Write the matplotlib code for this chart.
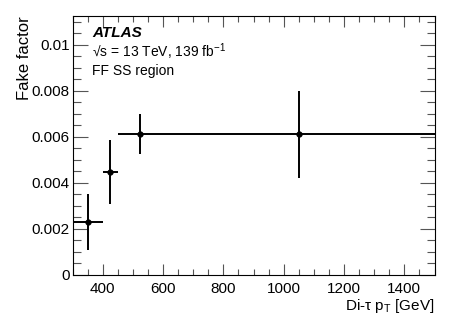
import matplotlib
matplotlib.use("Agg")
import matplotlib.pyplot as plt
from matplotlib.ticker import MultipleLocator

plt.rcParams['font.family'] = ['Liberation Sans', 'DejaVu Sans']

# bin edges and fake factors
bin_low = [300, 400, 450, 600]
bin_high = [400, 450, 600, 1500]
bin_center = [350, 425, 525, 1050]
ff = [0.0023, 0.00448, 0.00612, 0.00612]
ff_up = [0.0012, 0.0014, 0.00087, 0.0019]
ff_down = [0.0012, 0.0014, 0.00086, 0.0019]

xerr_lo = [c - l for c, l in zip(bin_center, bin_low)]
xerr_hi = [h - c for c, h in zip(bin_center, bin_high)]

fig = plt.figure(figsize=(4.57, 3.28), dpi=100)
ax = fig.add_axes([72.5/457, 53/328, 362/457, 259/328])

ax.errorbar(bin_center, ff, xerr=[xerr_lo, xerr_hi], yerr=[ff_down, ff_up],
            fmt='o', color='black', markersize=3.5, elinewidth=1.4, capsize=0)

ax.set_xlim(300, 1500)
ax.set_ylim(0, 0.01126)
ax.xaxis.set_major_locator(MultipleLocator(200))
ax.xaxis.set_minor_locator(MultipleLocator(50))
ax.yaxis.set_minor_locator(MultipleLocator(0.0005))
ax.set_yticks([0, 0.002, 0.004, 0.006, 0.008, 0.01])
ax.set_yticklabels(['0', '0.002', '0.004', '0.006', '0.008', '0.01'])
ax.tick_params(which='both', direction='in', top=True, right=True, labelsize=11,
               width=0.8, color='#555555')
ax.tick_params(axis='x', which='major', length=8, pad=5)
ax.tick_params(axis='x', which='minor', length=4)
ax.tick_params(axis='y', which='major', length=11, pad=2)
ax.tick_params(axis='y', which='minor', length=5.5)

ax.set_xlabel('Di-τ p$_\\mathregular{T}$ [GeV]', fontsize=11, loc='right', labelpad=1)
ax.set_ylabel('Fake factor', fontsize=12, loc='top', labelpad=0)

ax.text(0.054, 0.934, 'ATLAS', transform=ax.transAxes, fontsize=11,
        fontweight='bold', fontstyle='italic', va='center')
ax.text(0.054, 0.861, '√s = 13 TeV, 139 fb$^\\mathregular{-1}$',
        transform=ax.transAxes, fontsize=10, va='center')
ax.text(0.054, 0.788, 'FF SS region', transform=ax.transAxes, fontsize=10, va='center')

fig.savefig('out.png', dpi=100)
